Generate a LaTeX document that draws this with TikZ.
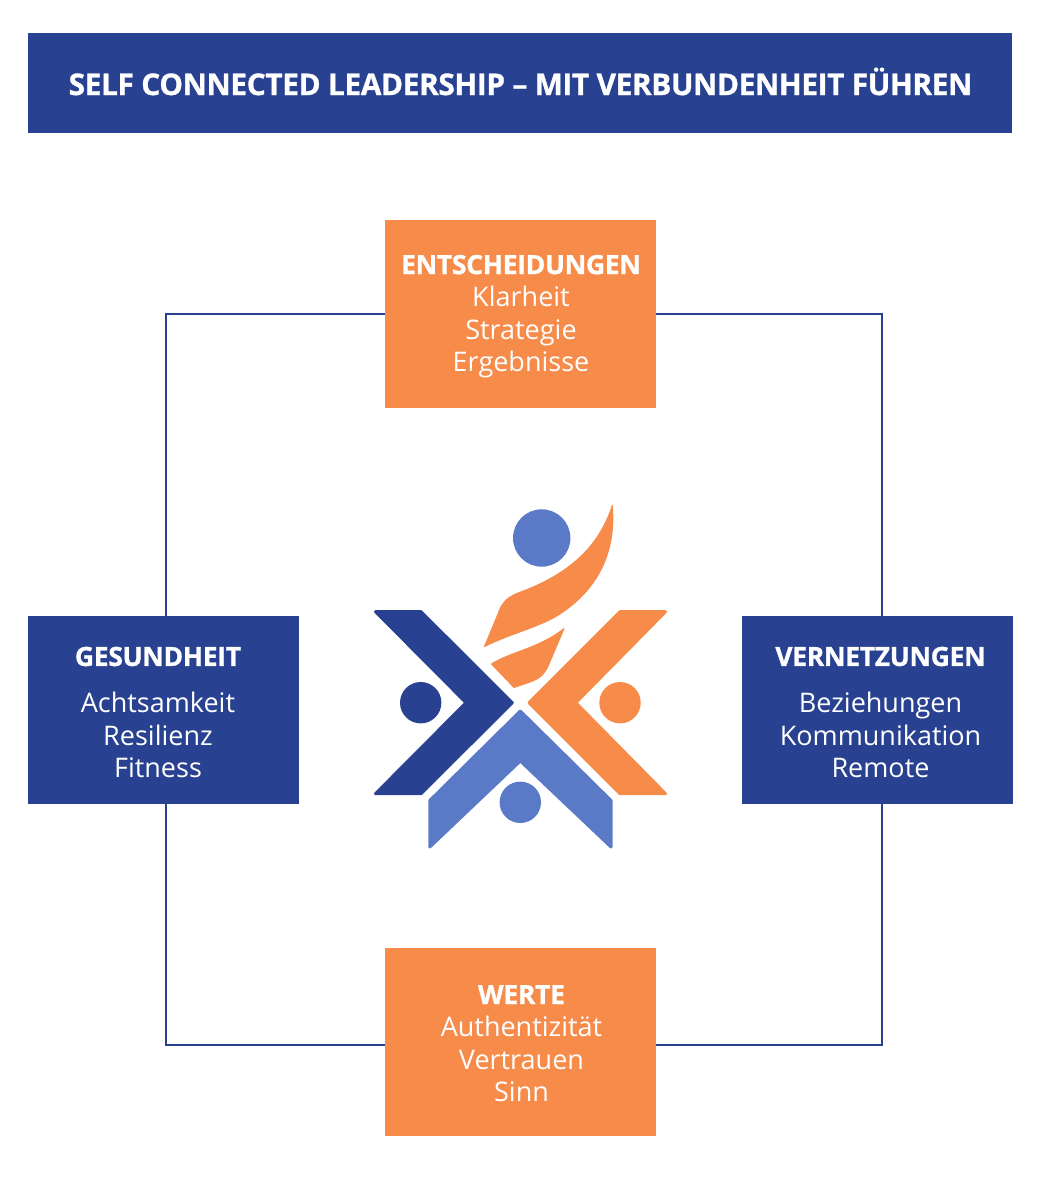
\documentclass[tikz,border=0pt]{standalone}
\usepackage{fontspec}
\setmainfont{Open Sans}
\newfontfamily\xbfam{Open Sans}[BoldFeatures={FakeBold=1,LetterSpace=-1.2}]
\newcommand{\xb}{\xbfam\bfseries}
\definecolor{navy}{HTML}{284191}
\definecolor{coral}{HTML}{F68B4A}
\definecolor{sky}{HTML}{5A7AC8}
\tikzset{
  navybox/.style={fill=navy,draw=none,inner sep=0pt,minimum width=271pt,minimum height=188pt},
  coralbox/.style={fill=coral,draw=none,inner sep=0pt,minimum width=271pt,minimum height=188pt},
  titlebox/.style={fill=navy,draw=none,inner sep=0pt,minimum width=984pt,minimum height=100pt,text=white},
  titletext/.style={text=white,inner sep=0pt,font=\fontsize{29.8}{36}\selectfont\xb},
  boxtext/.style={text=white,align=center,inner sep=0pt,font=\fontsize{27}{32.5}\selectfont},
  link/.style={draw=navy,line width=2pt},
  logoshape/.style={line join=round,line width=3pt}
}
\newcommand{\hd}[1]{{\fontsize{26.5}{32.5}\selectfont\xb #1}}
\begin{document}
\begin{tikzpicture}[x=1pt,y=-1pt]
\useasboundingbox (0,0) rectangle (1042,1199);
% boxes
\node[titlebox] (title) at (520,83) {};
\node[titletext] (titlet) at (520.5,81.5) {SELF CONNECTED LEADERSHIP – MIT VERBUNDENHEIT FÜHREN};
\node[coralbox] (ent) at (520.5,314) {};
\node[navybox] (ges) at (163.5,710) {};
\node[navybox] (ver) at (877.5,710) {};
\node[coralbox] (wer) at (520.5,1041.5) {};
% connectors
\draw[link] ([xshift=2pt]ges.north) |- (ent.west);
\draw[link] ([xshift=4.5pt]ver.north) |- (ent.east);
\draw[link] ([xshift=2pt]ges.south) |- ([yshift=-3.5pt]wer.west);
\draw[link] ([xshift=4.5pt]ver.south) |- ([yshift=-3.5pt]wer.east);
% texts
\node[boxtext] (entt) at (521,316.5) {\hd{ENTSCHEIDUNGEN}\\Klarheit\\Strategie\\Ergebnisse};
\node[boxtext] (gest) at (158,712.5) {\hd{GESUNDHEIT}\\[14.5pt]Achtsamkeit\\Resilienz\\Fitness};
\node[boxtext] (vert) at (880.5,712.5) {\hd{VERNETZUNGEN}\\[14.5pt]Beziehungen\\Kommunikation\\Remote};
\node[boxtext] (wert) at (521.5,1043.5) {\hd{WERTE}\\Authentizität\\Vertrauen\\Sinn};
% logo
\fill[navy,logoshape,draw=navy] (375.5,611.7) -- (421,611.7) -- (512.3,702.7) -- (421,793.7) -- (375.5,793.7) -- (466,702.7) -- cycle;
\fill[coral,logoshape,draw=coral] (665.5,611.7) -- (620,611.7) -- (529,702.7) -- (620,793.7) -- (665.5,793.7) -- (575.8,702.7) -- cycle;
\fill[sky,logoshape,draw=sky] (520.3,711) -- (611,800.5) -- (611,847) -- (520.3,761) -- (429.8,847) -- (429.8,800.5) -- cycle;
\fill[sky] (541.7,538) circle (28.7);
\fill[navy] (420.7,702.7) circle (20.7);
\fill[coral] (620,702.7) circle (20.7);
\fill[sky] (520.3,802.3) circle (20.7);
\fill[coral,line join=round,draw=coral,line width=1pt] (612.3,505.5) .. controls (616,550) and (600,590) .. (555,617) .. controls (535,628) and (510,634) .. (484.5,646.5) -- (498,614) .. controls (502,602) and (508,597) .. (518,593) .. controls (565,576) and (598,550) .. cycle;
\fill[coral,line join=round,draw=coral,line width=1pt] (564,628.5) -- (549,664) .. controls (544,676) and (538,679) .. (530,682) -- (514,687.5) -- (491.5,664) .. controls (510,652) and (540,648) .. cycle;
\end{tikzpicture}
\end{document}
